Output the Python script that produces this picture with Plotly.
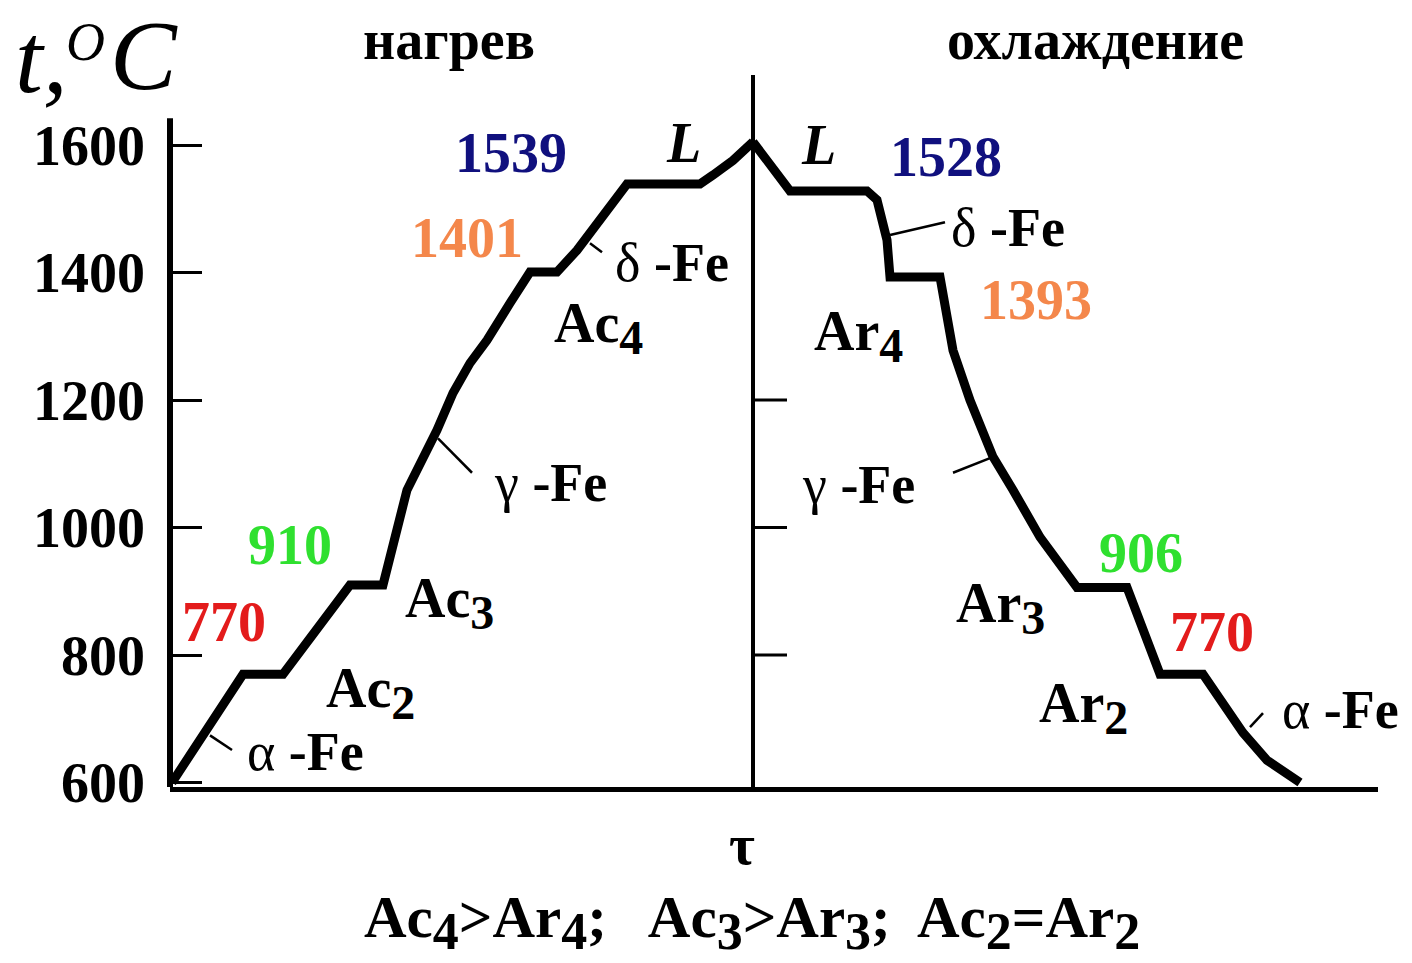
import plotly.graph_objects as go

# Heating curve of iron: time (arbitrary units) vs temperature, °C
heat_tau = [0.0, 7.1, 11.1, 17.8, 21.1, 23.5, 26.5, 28.1, 29.8, 31.5, 33.8, 35.8,
            38.5, 40.5, 45.5, 52.8, 54.1, 56.1, 58.1]
heat_temp = [600, 770, 770, 910, 910, 1059, 1153, 1211, 1258, 1294, 1352, 1401,
             1401, 1435, 1539, 1539, 1553, 1576, 1605]

# Cooling curve
cool_tau = [58.1, 61.8, 69.5, 70.5, 71.5, 71.8, 76.8, 78.1, 79.8, 82.1, 84.1, 86.8,
            90.5, 95.5, 98.8, 103.1, 107.1, 109.5, 112.8]
cool_temp = [1605, 1528, 1528, 1514, 1451, 1393, 1393, 1278, 1200, 1111, 1059, 985,
             906, 906, 770, 770, 678, 635, 600]

# Critical points (plateaus)
heat_crit = [770, 910, 1401, 1539]
cool_crit = [770, 906, 1393, 1528]
crit_colors = ["#e31b1b", "#2fe02f", "#f4874b", "#10107e"]

y_ticks = [600, 800, 1000, 1200, 1400, 1600]
mid_ticks = [800, 1000, 1200]

T_MIN, T_MAX = 593, 1710
TAU_MIN, TAU_MAX = -0.2, 120.6
TAU_MID = heat_tau[-1]
AXIS_TOP = 1642

SERIF = "Liberation Serif"
L, R, T, B = 170, 34, 75, 176
W, H = 1412, 963


def px_x(px):
    return (px - L) / (W - L - R)


def px_y(py):
    return (H - B - py) / (H - T - B)


fig = go.Figure()
fig.add_trace(go.Scatter(x=heat_tau, y=heat_temp, mode="lines",
                         line=dict(color="black", width=9), hoverinfo="skip"))
fig.add_trace(go.Scatter(x=cool_tau, y=cool_temp, mode="lines",
                         line=dict(color="black", width=9), hoverinfo="skip"))

shapes = []
# left temperature axis
shapes.append(dict(type="line", xref="paper", yref="y", x0=0, x1=0,
                   y0=T_MIN, y1=AXIS_TOP, line=dict(color="black", width=6)))
# dividing line between heating and cooling
shapes.append(dict(type="line", xref="x", yref="y", x0=TAU_MID, x1=TAU_MID,
                   y0=T_MIN, y1=T_MAX, line=dict(color="black", width=4)))
for v in mid_ticks:
    shapes.append(dict(type="line", xref="x", yref="y", x0=TAU_MID, x1=TAU_MID + 3.4,
                       y0=v, y1=v, line=dict(color="black", width=3)))

# leader lines from phase labels to the curves
leaders = [
    ((3.8, 674), (6.0, 651)),
    ((26.6, 1140), (30.0, 1086)),
    ((41.8, 1446), (43.0, 1432)),
    ((71.8, 1459), (77.3, 1479)),
    ((81.8, 1109), (78.1, 1086)),
    ((107.8, 687), (109.1, 709)),
]
for (xa, ya), (xb, yb) in leaders:
    shapes.append(dict(type="line", xref="x", yref="y", x0=xa, y0=ya, x1=xb, y1=yb,
                       line=dict(color="black", width=2.5)))

annotations = []


def note(text, x, y, size=56, color="black", xref="x", yref="y", bold=True,
         italic=False, xanchor="center", yanchor="middle"):
    annotations.append(dict(
        text=text, x=x, y=y, xref=xref, yref=yref, showarrow=False,
        xanchor=xanchor, yanchor=yanchor, borderpad=0,
        font=dict(family=SERIF, size=size, color=color,
                  weight="bold" if bold else "normal",
                  style="italic" if italic else "normal")))


def greek(ch):
    return f"<span style='font-weight:normal'>{ch}</span>"


def sub(d, size=48):
    return f"<sub><span style='font-size:{size}px'>{d}</span></sub>"


# critical temperature values
heat_pos = [(5.2, 852), (11.8, 973), (29.5, 1454), (33.9, 1587)]
cool_pos = [(104.0, 836), (96.9, 960), (86.4, 1357), (77.4, 1581)]
for val, (x, y), c in zip(heat_crit, heat_pos, crit_colors):
    note(str(val), x, y, size=56, color=c)
for val, (x, y), c in zip(cool_crit, cool_pos, crit_colors):
    note(str(val), x, y, size=56, color=c)

# transformation point names
note("Ac" + sub(2), 19.8, 741)
note("Ac" + sub(3), 27.7, 882)
note("Ac" + sub(4), 42.6, 1313)
note("Ar" + sub(4), 68.6, 1300)
note("Ar" + sub(3), 82.8, 874)
note("Ar" + sub(2), 91.1, 717)

# phases
note(greek("α") + " -Fe", 13.3, 648, size=54)
note(greek("γ") + " -Fe", 37.8, 1070, size=54)
note(greek("δ") + " -Fe", 50.0, 1415, size=54)
note(greek("δ") + " -Fe", 83.6, 1470, size=54)
note(greek("γ") + " -Fe", 68.6, 1067, size=54)
note(greek("α") + " -Fe", 116.8, 714, size=54)

# liquid
note("L", 51.1, 1603, size=56, bold=True, italic=True)
note("L", 64.6, 1600, size=56, bold=True, italic=True)

# headings and axis titles
note("нагрев", px_x(449), px_y(40), size=56, xref="paper", yref="paper")
note("охлаждение", px_x(1095), px_y(40), size=56, xref="paper", yref="paper")
note("t,", px_x(14), px_y(58), size=100, bold=False, italic=True,
     xref="paper", yref="paper", xanchor="left")
note("O", px_x(106), px_y(42), size=54, bold=False, italic=True,
     xref="paper", yref="paper", xanchor="right")
note("C", px_x(109), px_y(55), size=100, bold=False, italic=True,
     xref="paper", yref="paper", xanchor="left")
note("τ", px_x(742), px_y(845), size=56, xref="paper", yref="paper")
note("Ac" + sub(4, 52) + "&gt;Ar" + sub(4, 52) + ";\u00a0\u00a0 Ac" + sub(3, 52) +
     "&gt;Ar" + sub(3, 52) + ";\u00a0 Ac" + sub(2, 52) + "=Ar" + sub(2, 52),
     px_x(752), px_y(922), size=59, xref="paper", yref="paper")

fig.update_layout(
    width=W, height=H, autosize=False,
    margin=dict(l=L, r=R, t=T, b=B),
    paper_bgcolor="white", plot_bgcolor="white",
    showlegend=False,
    shapes=shapes, annotations=annotations,
    xaxis=dict(range=[TAU_MIN, TAU_MAX], showgrid=False, zeroline=False,
               showline=True, linecolor="black", linewidth=5,
               showticklabels=False, ticks=""),
    yaxis=dict(range=[T_MIN, T_MAX], showgrid=False, zeroline=False,
               showline=False, tickvals=y_ticks, ticks="inside", ticklen=32,
               tickwidth=3, tickcolor="black", ticklabelstandoff=24,
               tickfont=dict(family=SERIF, size=56, color="black", weight="bold")),
)

fig.write_html("out.html")
